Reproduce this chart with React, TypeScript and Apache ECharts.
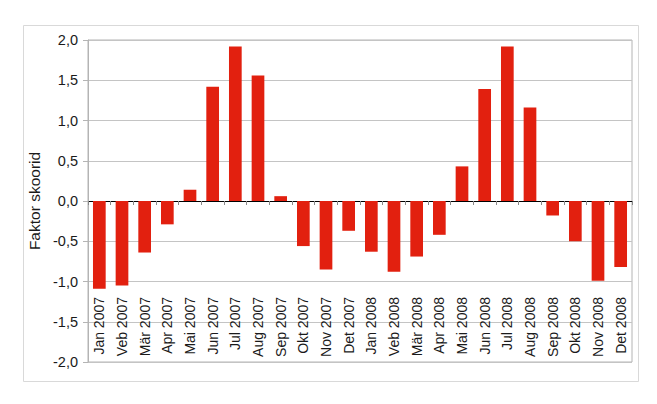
import React, { useEffect, useRef } from "react";
import * as echarts from "echarts";

const categories = [
  "Jan 2007", "Veb 2007", "Mär 2007", "Apr 2007", "Mai 2007", "Jun 2007",
  "Jul 2007", "Aug 2007", "Sep 2007", "Okt 2007", "Nov 2007", "Det 2007",
  "Jan 2008", "Veb 2008", "Mär 2008", "Apr 2008", "Mai 2008", "Jun 2008",
  "Jul 2008", "Aug 2008", "Sep 2008", "Okt 2008", "Nov 2008", "Det 2008",
];

const factorScores = [
  -1.09, -1.05, -0.64, -0.29, 0.14, 1.42, 1.92, 1.56, 0.06, -0.56, -0.85, -0.37,
  -0.63, -0.88, -0.69, -0.42, 0.43, 1.39, 1.92, 1.16, -0.18, -0.5, -0.99, -0.82,
];

const yAxisName = "Faktor skoorid";

export default function App() {
  const ref = useRef<HTMLDivElement>(null);

  useEffect(() => {
    if (!ref.current) return;
    const chart = echarts.init(ref.current, null, { renderer: "svg" });
    const font = "'Liberation Sans', Arial, sans-serif";
    chart.setOption({
      animation: false,
      backgroundColor: "#ffffff",
      graphic: [
        {
          type: "rect",
          shape: { x: 23.5, y: 25.5, width: 615, height: 356 },
          style: { fill: "none", stroke: "#d9d9d9", lineWidth: 1 },
          silent: true,
          z: -1,
        },
      ],
      grid: {
        left: 88,
        right: 25,
        top: 40,
        bottom: 42,
        containLabel: false,
        outerBoundsMode: "none",
        show: true,
        borderColor: "#b4b4b4",
        borderWidth: 1,
        backgroundColor: "transparent",
      },
      xAxis: {
        type: "category",
        data: categories,
        axisLine: { show: true, onZero: true, lineStyle: { color: "#000000", width: 1.2 } },
        axisTick: { show: true, alignWithLabel: false, length: 4, lineStyle: { color: "#888888" } },
        axisLabel: {
          rotate: 90,
          margin: -65,
          fontSize: 14,
          color: "#1a1a1a",
          fontFamily: font,
          interval: 0,
        },
        splitLine: { show: false },
      },
      yAxis: {
        type: "value",
        min: -2,
        max: 2,
        interval: 0.5,
        name: yAxisName,
        nameLocation: "middle",
        nameGap: 44,
        nameTextStyle: { fontSize: 15.5, color: "#1a1a1a", fontFamily: font },
        axisLine: { show: true, lineStyle: { color: "#b4b4b4" } },
        axisTick: { show: true, length: 5, lineStyle: { color: "#b4b4b4" } },
        axisLabel: {
          fontSize: 14.5,
          color: "#1a1a1a",
          fontFamily: font,
          margin: 10,
          formatter: (v: number) => v.toFixed(1).replace(".", ","),
        },
        splitLine: { show: true, lineStyle: { color: "#c4c4c4", width: 1 } },
      },
      series: [
        {
          type: "bar",
          data: factorScores,
          barWidth: "56%",
          itemStyle: { color: "#e2200f" },
        },
      ],
    });
    return () => chart.dispose();
  }, []);

  return (
    <div
      ref={ref}
      style={{ position: "absolute", left: 0, top: 0, width: 657, height: 404 }}
    />
  );
}
